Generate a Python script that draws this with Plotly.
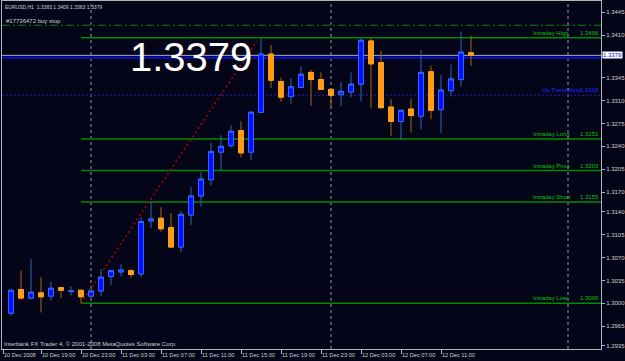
import plotly.graph_objects as go

# ---------------- data (EURUSD H1, bar index 0 = 10 Dec 2008 16:00) ----------------
bar_index = list(range(47))
opens = [1.2985, 1.3021, 1.3008, 1.3016, 1.3011, 1.3024, 1.3018, 1.3020, 1.3011, 1.3019,
         1.3041, 1.3048, 1.3050, 1.3045, 1.3126, 1.3130, 1.3116, 1.3086, 1.3135, 1.3164,
         1.3189, 1.3231, 1.3241, 1.3264, 1.3231, 1.3292, 1.3381, 1.3339, 1.3316, 1.3330,
         1.3353, 1.3342, 1.3327, 1.3319, 1.3323, 1.3335, 1.3401, 1.3368, 1.3300, 1.3278,
         1.3297, 1.3286, 1.3354, 1.3296, 1.3325, 1.3342, 1.3383]
highs = [1.3021, 1.3050, 1.3068, 1.3040, 1.3033, 1.3025, 1.3026, 1.3021, 1.3021, 1.3052,
         1.3051, 1.3060, 1.3052, 1.3131, 1.3156, 1.3147, 1.3138, 1.3141, 1.3178, 1.3200,
         1.3245, 1.3257, 1.3272, 1.3278, 1.3294, 1.3405, 1.3395, 1.3345, 1.3344, 1.3362,
         1.3357, 1.3353, 1.3328, 1.3338, 1.3353, 1.3405, 1.3405, 1.3386, 1.3312, 1.3296,
         1.3312, 1.3387, 1.3363, 1.3349, 1.3365, 1.3415, 1.3409]
lows = [1.2981, 1.3006, 1.3006, 1.2986, 1.3004, 1.3008, 1.3012, 1.3000, 1.3008, 1.3011,
        1.3028, 1.3041, 1.3039, 1.3040, 1.3115, 1.3109, 1.3085, 1.3078, 1.3120, 1.3148,
        1.3180, 1.3202, 1.3238, 1.3223, 1.3219, 1.3291, 1.3329, 1.3308, 1.3304, 1.3329,
        1.3302, 1.3326, 1.3300, 1.3301, 1.3315, 1.3308, 1.3298, 1.3298, 1.3256, 1.3250,
        1.3261, 1.3266, 1.3282, 1.3260, 1.3316, 1.3331, 1.3363]
closes = [1.3020, 1.3008, 1.3017, 1.3010, 1.3023, 1.3020, 1.3019, 1.3010, 1.3019, 1.3040,
          1.3050, 1.3051, 1.3044, 1.3125, 1.3129, 1.3114, 1.3086, 1.3136, 1.3164, 1.3190,
          1.3232, 1.3240, 1.3263, 1.3230, 1.3292, 1.3381, 1.3341, 1.3315, 1.3331, 1.3350,
          1.3342, 1.3327, 1.3318, 1.3324, 1.3335, 1.3402, 1.3366, 1.3299, 1.3278, 1.3295,
          1.3287, 1.3353, 1.3295, 1.3326, 1.3343, 1.3384, 1.3379]

# time-axis labels (bar index where label starts)
tick_idx = [-0.77, 3, 7, 11, 15, 19, 23, 27, 31, 35, 39, 43]
tick_labels = ["10 Dec 2008", "10 Dec 19:00", "10 Dec 23:00", "11 Dec 03:00", "11 Dec 07:00",
               "11 Dec 11:00", "11 Dec 15:00", "11 Dec 19:00", "11 Dec 23:00", "12 Dec 03:00",
               "12 Dec 07:00", "12 Dec 11:00"]

# price-axis labels
price_ticks = [1.3445, 1.3410, 1.3345, 1.3310, 1.3275, 1.3240, 1.3205, 1.3170, 1.3140,
               1.3105, 1.3070, 1.3035, 1.3000, 1.2965, 1.2935]

# level lines
level_names = ["Intraday High", "Intraday Long", "Intraday Pivot", "Intraday Short", "Intraday Low"]
level_values = [1.3406, 1.3251, 1.3203, 1.3155, 1.3000]
level_start_bar = 7
uptrend_stop = 1.3318
buy_stop_price = 1.3425
bid_price = 1.3379
blue_line_price = 1.33755
day_separators = [8, 32, 55.7]
red_line_bars = [7, 24.6]
red_line_prices = [1.3000, 1.3401]
header = "EURUSD,H1  1.3383 1.3409 1.3363 1.3379"
order_label = "#17736472 buy stop"
footer = "Interbank FX Trader 4, © 2001-2008 MetaQuotes Software Corp."
big_price = "1.3379"

# ---------------- styling ----------------
BG = "#05051a"
AX = "#b4b4b4"
TXT = "#cfcfcf"
GREEN_LINE = "#008a00"
GREEN_TXT = "#00c800"
SMALL_FONT = "Liberation Sans, Arial, sans-serif"

X_RANGE = [-0.9, 59.0]
Y_RANGE = [1.29302, 1.34621]

body_hi = [max(o, c) for o, c in zip(opens, closes)]
body_lo = [min(o, c) for o, c in zip(opens, closes)]

fig = go.Figure()
# wicks + bodies
fig.add_trace(go.Candlestick(
    x=bar_index, open=opens, high=highs, low=lows, close=closes,
    increasing=dict(line=dict(color="#2868b0", width=1), fillcolor="#0010ff"),
    decreasing=dict(line=dict(color="#a8660c", width=1), fillcolor="#ff9a14"),
    hoverinfo="skip", showlegend=False))
# body outlines
fig.add_trace(go.Candlestick(
    x=bar_index, open=opens, high=body_hi, low=body_lo, close=closes,
    increasing=dict(line=dict(color="#3a64ff", width=1), fillcolor="#0010ff"),
    decreasing=dict(line=dict(color="#ffa020", width=1), fillcolor="#ff9a14"),
    hoverinfo="skip", showlegend=False))

shapes = []
# day separators
for s in day_separators:
    shapes.append(dict(type="line", xref="x", yref="paper", x0=s, x1=s, y0=0, y1=1,
                       line=dict(color="#9a9aa8", width=1, dash="3px,3px"), layer="below"))
# buy stop dash-dot
shapes.append(dict(type="line", xref="paper", yref="y", x0=0, x1=1, y0=buy_stop_price, y1=buy_stop_price,
                   line=dict(color=GREEN_LINE, width=1, dash="8px,3px,2px,3px"), layer="below"))
# intraday levels
for v in level_values:
    shapes.append(dict(type="line", xref="x", yref="y", x0=level_start_bar, x1=X_RANGE[1], y0=v, y1=v,
                       line=dict(color=GREEN_LINE, width=1.5), layer="below"))
# up trend stop dotted
shapes.append(dict(type="line", xref="paper", yref="y", x0=0, x1=1, y0=uptrend_stop, y1=uptrend_stop,
                   line=dict(color="#1a1ab0", width=1, dash="2px,2px"), layer="below"))
# bid line and blue line
shapes.append(dict(type="line", xref="paper", yref="y", x0=0, x1=1, y0=bid_price, y1=bid_price,
                   line=dict(color="#a8a8c8", width=1), layer="below"))
shapes.append(dict(type="line", xref="paper", yref="y", x0=0, x1=1, y0=blue_line_price, y1=blue_line_price,
                   line=dict(color="#0010d8", width=2), layer="below"))
# red dotted trend line
shapes.append(dict(type="line", xref="x", yref="y", x0=red_line_bars[0], x1=red_line_bars[1],
                   y0=red_line_prices[0], y1=red_line_prices[1],
                   line=dict(color="#b00000", width=1.5, dash="2px,3px"), layer="below"))

ann = []
# date labels
for xi, t in zip(tick_idx, tick_labels):
    ann.append(dict(x=xi, y=0, xref="x", yref="paper", text=t, showarrow=False,
                    xanchor="left", yanchor="top", yshift=-1, xshift=-1,
                    font=dict(family=SMALL_FONT, size=5.6, color=TXT)))
# level labels
for name, v in zip(level_names, level_values):
    ann.append(dict(x=(531 - 2) / 599, y=v, xref="paper", yref="y", text=name, showarrow=False,
                    xanchor="left", yanchor="bottom", yshift=0,
                    font=dict(family=SMALL_FONT, size=6, color=GREEN_TXT)))
    ann.append(dict(x=(601 - 2) / 599, y=v, xref="paper", yref="y", text=f"{v:.4f}", showarrow=False,
                    xanchor="right", yanchor="bottom", yshift=0,
                    font=dict(family=SMALL_FONT, size=6, color=GREEN_TXT)))
ann.append(dict(x=(540 - 2) / 599, y=uptrend_stop, xref="paper", yref="y", text="Up Trend Stop", showarrow=False,
                xanchor="left", yanchor="bottom", font=dict(family=SMALL_FONT, size=6, color="#1a2aff")))
ann.append(dict(x=(601 - 2) / 599, y=uptrend_stop, xref="paper", yref="y", text=f"{uptrend_stop:.4f}", showarrow=False,
                xanchor="right", yanchor="bottom", font=dict(family=SMALL_FONT, size=6, color="#1a2aff")))
# header, order label, footer
ann.append(dict(x=0, y=1, xref="paper", yref="paper", text=header, showarrow=False,
                xanchor="left", yanchor="top", xshift=1, yshift=-1,
                font=dict(family=SMALL_FONT, size=5, color=TXT)))
ann.append(dict(x=0, y=buy_stop_price, xref="paper", yref="y", text=order_label, showarrow=False,
                xanchor="left", yanchor="bottom", xshift=2, yshift=-1,
                font=dict(family=SMALL_FONT, size=6, color=TXT)))
ann.append(dict(x=0, y=0, xref="paper", yref="paper", text=footer, showarrow=False,
                xanchor="left", yanchor="bottom", xshift=0, yshift=0,
                font=dict(family=SMALL_FONT, size=6, color=TXT)))
# big price
ann.append(dict(x=(191 - 2) / 599, y=(349 - 57) / 348, xref="paper", yref="paper", text=big_price, showarrow=False,
                xanchor="center", yanchor="middle",
                font=dict(family="Liberation Sans, Arial, sans-serif", size=40, color="#ffffff")))
# current price box on axis
ann.append(dict(x=1, y=bid_price, xref="paper", yref="y", text=f"{bid_price:.4f}", showarrow=False,
                xanchor="left", yanchor="middle", xshift=1, bgcolor="#ffffff", borderpad=0,
                font=dict(family=SMALL_FONT, size=6, color="#0010ff")))

fig.update_layout(
    width=625, height=361,
    margin=dict(l=2, r=24, t=1, b=12),
    paper_bgcolor=BG, plot_bgcolor=BG,
    showlegend=False,
    shapes=shapes, annotations=ann,
    xaxis=dict(range=X_RANGE, showgrid=False, zeroline=False, rangeslider=dict(visible=False),
               showline=True, mirror=True, linecolor=AX, linewidth=1,
               tickmode="array", tickvals=tick_idx, ticks="outside", ticklen=4, tickcolor=AX,
               showticklabels=False, fixedrange=True),
    yaxis=dict(range=Y_RANGE, side="right", showgrid=False, zeroline=False,
               showline=True, mirror=True, linecolor=AX, linewidth=1,
               tickmode="array", tickvals=price_ticks, ticktext=[f"{p:.4f}" for p in price_ticks],
               ticks="outside", ticklen=3, tickcolor=AX,
               tickfont=dict(family=SMALL_FONT, size=6, color=TXT), fixedrange=True),
)

fig.write_html("out.html")
